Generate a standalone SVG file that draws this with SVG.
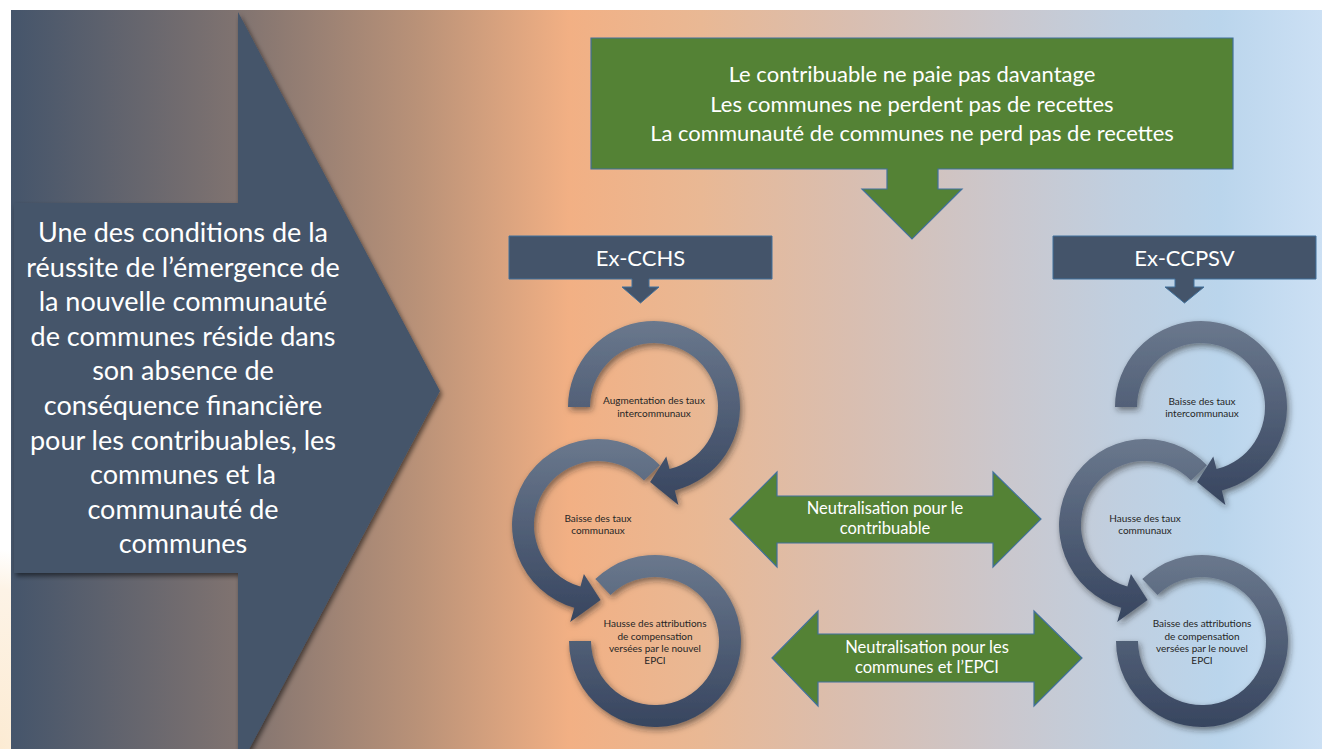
<svg xmlns="http://www.w3.org/2000/svg" width="1322" height="749" viewBox="0 0 1322 749">
  <defs>
    <linearGradient id="bg" x1="11" y1="0" x2="1322" y2="0" gradientUnits="userSpaceOnUse">
      <stop offset="0" stop-color="#45556B"/>
      <stop offset="0.173" stop-color="#807370"/>
      <stop offset="0.312" stop-color="#BA9278"/>
      <stop offset="0.426" stop-color="#F2B084"/>
      <stop offset="0.526" stop-color="#E9B894"/>
      <stop offset="0.64" stop-color="#D9BEB0"/>
      <stop offset="0.754" stop-color="#CBC7CC"/>
      <stop offset="0.846" stop-color="#C0CFE0"/>
      <stop offset="0.922" stop-color="#BAD5EC"/>
      <stop offset="1" stop-color="#CCE0F4"/>
    </linearGradient>
    <radialGradient id="glow" cx="0" cy="749" r="1" gradientUnits="userSpaceOnUse" gradientTransform="translate(0 749) scale(80 200) translate(0 -749)">
      <stop offset="0" stop-color="#FCEBD3"/>
      <stop offset="0.8" stop-color="#FDF3E6"/>
      <stop offset="1" stop-color="#FFFFFF"/>
    </radialGradient>
    <linearGradient id="ring" x1="0" y1="0" x2="0" y2="1">
      <stop offset="0" stop-color="#6A788D"/>
      <stop offset="1" stop-color="#37455F"/>
    </linearGradient>
    <filter id="sh" x="-15%" y="-15%" width="140%" height="140%">
      <feDropShadow dx="2" dy="3" stdDeviation="2.5" flood-color="#000" flood-opacity="0.55"/>
    </filter>
    <filter id="rsh" x="-20%" y="-20%" width="150%" height="150%">
      <feDropShadow dx="2" dy="3" stdDeviation="3" flood-color="#1a1a1a" flood-opacity="0.55"/>
    </filter>
  </defs>
  <style>
    .dark{fill:#44546A;stroke:#41719C;stroke-width:1}
    .green{fill:#548235;stroke:#41719C;stroke-width:1.2}
    .ring{fill:url(#ring);filter:url(#rsh)}
    .wt{font-family:Lato,"Liberation Sans",sans-serif;fill:#FFFFFF;text-anchor:middle}
    .rt{font-family:Lato,"Liberation Sans",sans-serif;fill:#262626;font-size:10px;text-anchor:middle}
    .big{font-size:27px}
    .top{font-size:22px}
    .lbl{font-size:22px}
    .neu{font-size:16.5px}
  </style>

  <rect x="0" y="0" width="1322" height="749" fill="#FFFFFF"/>
  <rect x="0" y="520" width="60" height="229" fill="url(#glow)"/>
  <rect x="11" y="10" width="1311" height="739" fill="url(#bg)"/>

  <g id="main-arrow">
    <path class="dark" style="stroke:none;filter:url(#sh)" d="M14,203 H238 V12 L440,391 L238,770 V573 H14 Z"/>
    <g class="wt big">
      <text x="183" y="242">Une des conditions de la</text>
      <text x="183" y="276.6">réussite de l’émergence de</text>
      <text x="183" y="311.2">la nouvelle communauté</text>
      <text x="183" y="345.8">de communes réside dans</text>
      <text x="183" y="380.4">son absence de</text>
      <text x="183" y="415">conséquence financière</text>
      <text x="183" y="449.6">pour les contribuables, les</text>
      <text x="183" y="484.2">communes et la</text>
      <text x="183" y="518.8">communauté de</text>
      <text x="183" y="553.4">communes</text>
    </g>
  </g>

  <g id="top-box">
    <path class="green" d="M591,38 H1233 V169 H938 V189 H962 L912,239 L862,189 H887 V169 H591 Z"/>
    <g class="wt top">
      <text x="912" y="82">Le contribuable ne paie pas davantage</text>
      <text x="912" y="111.5">Les communes ne perdent pas de recettes</text>
      <text x="912" y="141">La communauté de communes ne perd pas de recettes</text>
    </g>
  </g>

  <g id="ex-cchs">
    <path class="dark" d="M509,236 H772 V279 H649 V287 H659 L640.5,303 L622,287 H632 V279 H509 Z"/>
    <text class="wt lbl" x="640.5" y="266">Ex-CCHS</text>
  </g>

  <g id="ex-ccpsv">
    <path class="dark" d="M1053,236 H1316 V279 H1194 V287 H1204 L1184.5,303 L1165,287 H1175 V279 H1053 Z"/>
    <text class="wt lbl" x="1184.5" y="266">Ex-CCPSV</text>
  </g>

  <g id="cycle-left">
    <g id="left-ring3">
      <path class="ring" d="M595.3,579.1 A86,86 0 1 1 569,641 L591,641 A64,64 0 1 0 610.5,595 Z"/>
      <text class="rt" x="655" y="627.3">Hausse des attributions</text>
      <text class="rt" x="655" y="639.5">de compensation</text>
      <text class="rt" x="655" y="651.7">versées par le nouvel</text>
      <text class="rt" x="655" y="664">EPCI</text>
    </g>
    <g id="left-ring2">
      <path class="ring" d="M659.9,465.3 A86,86 0 1 0 574.3,607.7 L570.2,622.1 L600.6,600 L583.9,574 L580.4,586.5 A64,64 0 1 1 644,480.5 Z"/>
      <text class="rt" x="598" y="521.7">Baisse des taux</text>
      <text class="rt" x="598" y="534.3">communaux</text>
    </g>
    <g id="left-ring1">
      <path class="ring" d="M568,407 A86,86 0 1 1 674.8,490.4 L678.4,505 L650.1,481.9 L666.3,456.5 L669.5,469.1 A64,64 0 1 0 590,407 Z"/>
      <text class="rt" x="654" y="404.3">Augmentation des taux</text>
      <text class="rt" x="654" y="416.7">intercommunaux</text>
    </g>
  </g>

  <g id="cycle-right">
    <g id="right-ring3">
      <path class="ring" transform="translate(547 0)" d="M595.3,579.1 A86,86 0 1 1 569,641 L591,641 A64,64 0 1 0 610.5,595 Z"/>
      <text class="rt" x="1202" y="627.3">Baisse des attributions</text>
      <text class="rt" x="1202" y="639.5">de compensation</text>
      <text class="rt" x="1202" y="651.7">versées par le nouvel</text>
      <text class="rt" x="1202" y="664">EPCI</text>
    </g>
    <g id="right-ring2">
      <path class="ring" transform="translate(547 0)" d="M659.9,465.3 A86,86 0 1 0 574.3,607.7 L570.2,622.1 L600.6,600 L583.9,574 L580.4,586.5 A64,64 0 1 1 644,480.5 Z"/>
      <text class="rt" x="1145" y="521.7">Hausse des taux</text>
      <text class="rt" x="1145" y="534.3">communaux</text>
    </g>
    <g id="right-ring1">
      <path class="ring" transform="translate(547 0)" d="M568,407 A86,86 0 1 1 674.8,490.4 L678.4,505 L650.1,481.9 L666.3,456.5 L669.5,469.1 A64,64 0 1 0 590,407 Z"/>
      <text class="rt" x="1202" y="405">Baisse des taux</text>
      <text class="rt" x="1202" y="417.3">intercommunaux</text>
    </g>
  </g>

  <g id="connectors">
    <g id="neutralisation-contribuable">
      <path class="green" d="M730,519 L777,472 V496 H993 V472 L1041,519 L993,567 V543 H777 V567 Z"/>
      <text class="wt neu" x="885" y="514">Neutralisation pour le</text>
      <text class="wt neu" x="885" y="534">contribuable</text>
    </g>
    <g id="neutralisation-communes">
      <path class="green" d="M772,658 L818,611 V634 H1034 V611 L1082,658 L1034,706 V682 H818 V706 Z"/>
      <text class="wt neu" x="927" y="652.5">Neutralisation pour les</text>
      <text class="wt neu" x="927" y="672.5">communes et l’EPCI</text>
    </g>
  </g>
</svg>
